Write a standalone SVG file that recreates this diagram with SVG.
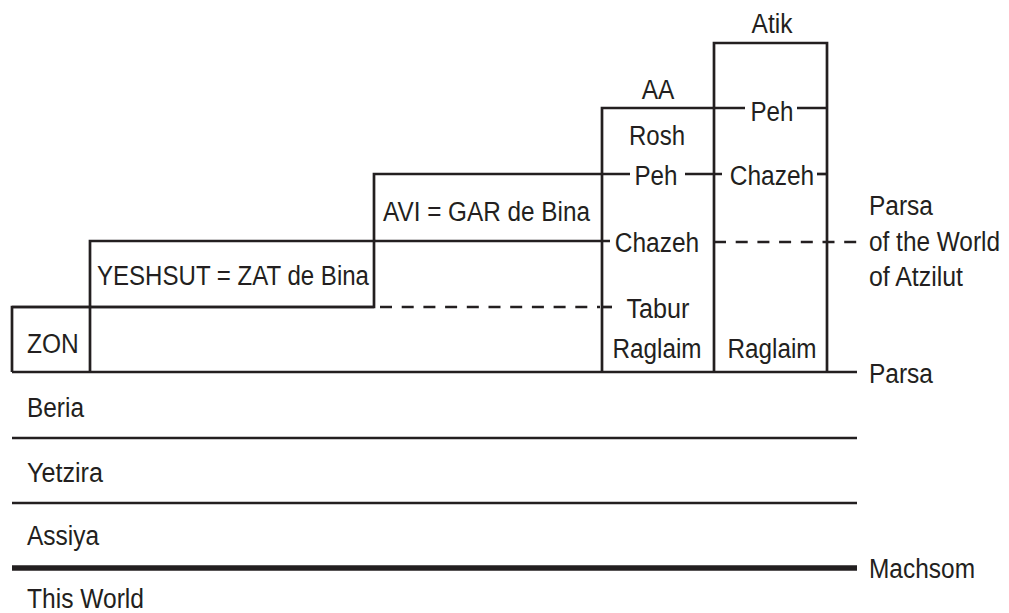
<svg xmlns="http://www.w3.org/2000/svg" width="1009" height="613" viewBox="0 0 1009 613">
<style>
text{font-family:"Liberation Sans",Arial,sans-serif;font-size:27px;fill:#231f20}
.m{text-anchor:middle}
.s{stroke:#231f20;stroke-width:2.7;fill:none;stroke-linecap:butt}
.d{stroke:#231f20;stroke-width:2.7;fill:none;stroke-dasharray:12 9.7}
.k{stroke:#231f20;stroke-width:5.5;fill:none}
</style>
<rect width="1009" height="613" fill="#fff"/>
<g id="zon">
<path class="s" d="M12,372 V307 H90 V372"/>
<text x="27" y="353" textLength="51.7" lengthAdjust="spacingAndGlyphs">ZON</text>
</g>
<g id="yeshsut">
<path class="s" d="M90,307 H374 V241 H90 V307"/>
<text x="97" y="285" textLength="272" lengthAdjust="spacingAndGlyphs">YESHSUT = ZAT de Bina</text>
</g>
<g id="avi">
<path class="s" d="M374,241 V174 H602"/>
<text x="383" y="221" textLength="207" lengthAdjust="spacingAndGlyphs">AVI = GAR de Bina</text>
</g>
<g id="aa">
<path class="s" d="M602,372 V108 H714"/>
<text class="m" x="658" y="99" textLength="32.7" lengthAdjust="spacingAndGlyphs">AA</text>
<text class="m" x="657" y="145" textLength="56" lengthAdjust="spacingAndGlyphs">Rosh</text>
<path class="s" d="M602,174 H630 M685,174 H722"/>
<text class="m" x="656" y="185" textLength="43" lengthAdjust="spacingAndGlyphs">Peh</text>
<path class="s" d="M374,241 H610"/>
<text class="m" x="657" y="252" textLength="84.4" lengthAdjust="spacingAndGlyphs">Chazeh</text>
<path class="s" d="M602,307 H612"/>
<text class="m" x="658" y="318" textLength="63" lengthAdjust="spacingAndGlyphs">Tabur</text>
<text class="m" x="657" y="358" textLength="89" lengthAdjust="spacingAndGlyphs">Raglaim</text>
</g>
<g id="atik">
<path class="s" d="M714,372 V43 H827 V372"/>
<text class="m" x="772" y="33" textLength="40.8" lengthAdjust="spacingAndGlyphs">Atik</text>
<path class="s" d="M714,108 H745 M797,108 H827"/>
<text class="m" x="772" y="121" textLength="43" lengthAdjust="spacingAndGlyphs">Peh</text>
<path class="s" d="M817,174 H827"/>
<text class="m" x="772" y="185" textLength="84.4" lengthAdjust="spacingAndGlyphs">Chazeh</text>
<text class="m" x="772" y="358" textLength="89" lengthAdjust="spacingAndGlyphs">Raglaim</text>
</g>
<g id="connectors">
<path class="s" d="M12,307 H374"/>
<path class="d" d="M380,307 H600"/>
<path class="d" d="M714,242 H857"/>
<path class="s" d="M12,372 H857"/>
<path class="s" d="M12,438 H857"/>
<path class="s" d="M12,503 H857"/>
<path class="k" d="M12,568 H857"/>
</g>
<g id="labels">
<text x="869" y="215" textLength="64" lengthAdjust="spacingAndGlyphs">Parsa</text>
<text x="869" y="251" textLength="131" lengthAdjust="spacingAndGlyphs">of the World</text>
<text x="869" y="286" textLength="94" lengthAdjust="spacingAndGlyphs">of Atzilut</text>
<text x="869" y="383" textLength="64" lengthAdjust="spacingAndGlyphs">Parsa</text>
<text x="869" y="578" textLength="106" lengthAdjust="spacingAndGlyphs">Machsom</text>
<text x="27" y="417" textLength="57" lengthAdjust="spacingAndGlyphs">Beria</text>
<text x="27" y="482" textLength="76" lengthAdjust="spacingAndGlyphs">Yetzira</text>
<text x="27" y="545" textLength="72" lengthAdjust="spacingAndGlyphs">Assiya</text>
<text x="27" y="608" textLength="117" lengthAdjust="spacingAndGlyphs">This World</text>
</g>
</svg>
